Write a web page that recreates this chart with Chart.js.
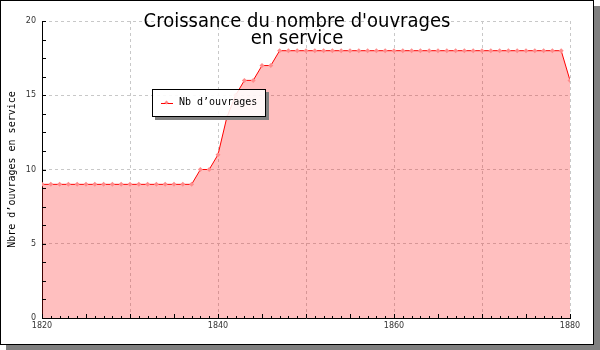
<!DOCTYPE html>
<html>
<head>
<meta charset="utf-8">
<script src="https://cdn.jsdelivr.net/npm/chart.js@4/dist/chart.umd.min.js"></script>
<style>
body { margin: 0; background: #fff; }
#cadre { position: absolute; left: 0; top: 0; width: 592px; height: 343px; border: 1px solid #000; box-shadow: 6px 6px 0 #808080; background: #fff; }
#graphe { position: absolute; left: 0; top: 0; }
#titre { position: absolute; left: 0; top: 11px; width: 592px; text-align: center; font: 20px "DejaVu Sans Condensed", "DejaVu Sans"; line-height: 17px; color: #000; }
#titre span { display: inline-block; }
#legende { position: absolute; left: 151px; top: 88px; width: 112px; height: 26px; border: 1px solid #000; box-shadow: 3px 3px 0 #808080; background: rgba(255,255,255,0.88); font: 10px "DejaVu Sans Mono"; color: #000; }
#legende .trait { position: absolute; left: 8px; top: 13px; width: 12px; border-top: 1px solid #f00; }
#legende .point { position: absolute; left: 12px; top: 11px; width: 3px; height: 3px; background: #ff8c8c; transform: rotate(45deg); }
#legende .texte { position: absolute; left: 26px; top: 6px; white-space: nowrap; }
</style>
</head>
<body>
<div id="cadre">
  <canvas id="graphe" width="592" height="343"></canvas>
  <div id="titre"></div>
  <div id="legende"></div>
</div>
<script>
// données
var titreLignes = ["Croissance du nombre d'ouvrages", "en service"];
var titreAxeY = "Nbre d’ouvrages en service";
var serieNom = "Nb d’ouvrages";
var etiquettesX = [1820, 1840, 1860, 1880];

var annees = [1820, 1821, 1822, 1823, 1824, 1825, 1826, 1827, 1828, 1829,
              1830, 1831, 1832, 1833, 1834, 1835, 1836, 1837, 1838, 1839,
              1840, 1841, 1842, 1843, 1844, 1845, 1846, 1847, 1848, 1849,
              1850, 1851, 1852, 1853, 1854, 1855, 1856, 1857, 1858, 1859,
              1860, 1861, 1862, 1863, 1864, 1865, 1866, 1867, 1868, 1869,
              1870, 1871, 1872, 1873, 1874, 1875, 1876, 1877, 1878, 1879,
              1880];
var ouvrages = [9, 9, 9, 9, 9, 9, 9, 9, 9, 9,
                9, 9, 9, 9, 9, 9, 9, 9, 10, 10,
                11, 13.5, 15, 16, 16, 17, 17, 18, 18, 18,
                18, 18, 18, 18, 18, 18, 18, 18, 18, 18,
                18, 18, 18, 18, 18, 18, 18, 18, 18, 18,
                18, 18, 18, 18, 18, 18, 18, 18, 18, 18,
                16];

// titre
var titre = document.getElementById('titre');
titre.innerHTML = titreLignes.map(function (l) { return '<span>' + l + '</span>'; }).join('<br>');

// légende
document.getElementById('legende').innerHTML =
    '<div class="trait"></div><div class="point"></div><div class="texte">' + serieNom + '</div>';

// petites graduations vers l'intérieur
var graduations = {
    id: 'graduations',
    afterDatasetsDraw: function (chart) {
        var ctx = chart.ctx, a = chart.chartArea, x = chart.scales.x, y = chart.scales.y;
        ctx.save();
        ctx.strokeStyle = '#000';
        ctx.lineWidth = 1;
        ctx.beginPath();
        for (var an = 1820; an <= 1880; an++) {
            var px = Math.round(x.getPixelForValue(an)) + 0.5;
            var len = an % 5 === 0 ? 4 : 2;
            ctx.moveTo(px, a.bottom);
            ctx.lineTo(px, a.bottom - len);
        }
        for (var v = 0; v <= 20; v += 1.25) {
            var py = Math.round(y.getPixelForValue(v)) + 0.5;
            ctx.moveTo(a.left, py);
            ctx.lineTo(a.left + 4, py);
        }
        ctx.stroke();
        ctx.restore();
    }
};

var points = [];
for (var i in annees) {
    points.push({ x: annees[i], y: ouvrages[i] });
}

var petit = { family: 'DejaVu Sans', size: 8 };

var ctx = document.getElementById('graphe');
var graphe = new Chart(ctx, {
    type: 'line',
    data: {
        datasets: [
            {
                label: serieNom,
                data: points,
                borderColor: '#ff0000',
                borderWidth: 1,
                backgroundColor: 'rgba(255, 0, 0, 0.25)',
                fill: 'origin',
                tension: 0,
                pointStyle: 'rectRot',
                pointRadius: 2.5,
                pointBackgroundColor: '#ff8c8c',
                pointBorderWidth: 0
            }
        ]
    },
    options: {
        responsive: false,
        animation: false,
        layout: { padding: { left: 0, right: 23, top: 20, bottom: 0 } },
        plugins: {
            legend: { display: false },
            tooltip: { enabled: false }
        },
        scales: {
            x: {
                type: 'linear',
                min: 1820,
                max: 1880,
                grid: { color: '#c8c8c8', drawTicks: false },
                border: { color: '#000', dash: [3, 3] },
                ticks: {
                    stepSize: 10,
                    autoSkip: false,
                    maxRotation: 0,
                    padding: 3,
                    font: petit,
                    color: '#333',
                    callback: function (v) { return etiquettesX.indexOf(v) >= 0 ? String(v) : ''; }
                },
                afterFit: function (s) { s.height = 26; }
            },
            y: {
                min: 0,
                max: 20,
                grid: { color: '#c8c8c8', drawTicks: false },
                border: { color: '#000', dash: [3, 3] },
                ticks: {
                    stepSize: 5,
                    padding: 6,
                    font: petit,
                    color: '#333'
                },
                title: {
                    display: true,
                    text: titreAxeY,
                    color: '#000',
                    font: { family: 'DejaVu Sans Mono', size: 10 },
                    padding: { top: 5 }
                },
                afterFit: function (s) { s.width = 41; }
            }
        }
    },
    plugins: [graduations]
});
</script>
</body>
</html>
